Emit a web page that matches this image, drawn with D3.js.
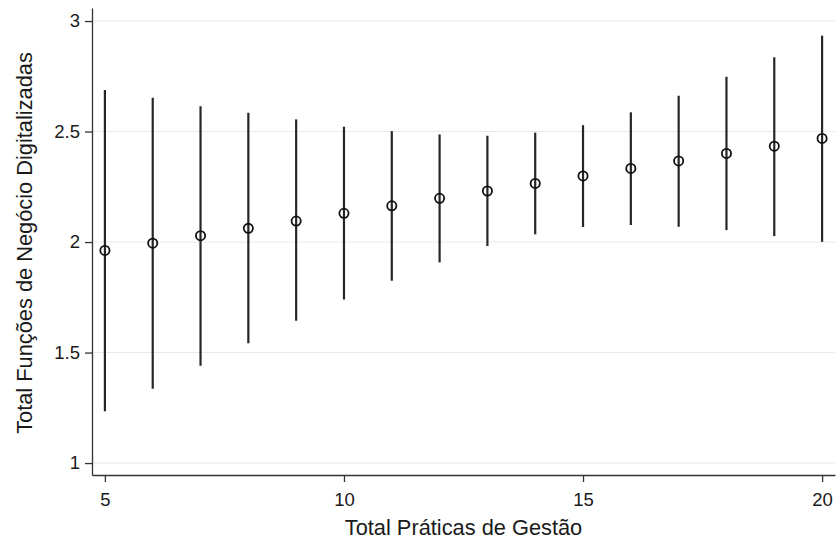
<!DOCTYPE html>
<html>
<head>
<meta charset="utf-8">
<script src="https://cdn.jsdelivr.net/npm/d3@7"></script>
<style>
html,body{margin:0;padding:0;background:#fff;}
svg{display:block;}
text{font-family:"Liberation Sans", Arial, sans-serif;fill:#1a1a1a;}
</style>
</head>
<body>
<svg id="chart" width="836" height="542"></svg>
<script>
const practices = [5,6,7,8,9,10,11,12,13,14,15,16,17,18,19,20];
const estimate  = [1.962,1.995,2.029,2.062,2.095,2.130,2.164,2.198,2.231,2.265,2.299,2.333,2.367,2.401,2.434,2.469];
const lower     = [1.235,1.336,1.440,1.542,1.644,1.740,1.825,1.908,1.982,2.035,2.068,2.077,2.069,2.054,2.027,2.001];
const upper     = [2.688,2.653,2.615,2.585,2.555,2.522,2.502,2.487,2.481,2.495,2.529,2.587,2.662,2.748,2.836,2.934];
const xTicks = [5,10,15,20];
const yTicks = [1,1.5,2,2.5,3];
const xTitle = "Total Práticas de Gestão";
const yTitle = "Total Funções de Negócio Digitalizadas";

const svg = d3.select("#chart");
const mLeft = 92, mRight = 835, mTop = 8, mBottom = 475;

const x = d3.scaleLinear().domain([4.73, 20.27]).range([mLeft, mRight]);
const y = d3.scaleLinear().domain([0.946, 3.059]).range([mBottom, mTop]);

// gridlines
svg.append("g").selectAll("line").data(yTicks).join("line")
  .attr("x1", mLeft).attr("x2", mRight)
  .attr("y1", d => y(d)).attr("y2", d => y(d))
  .attr("stroke", "#e9e9e9").attr("stroke-width", 1);

const data = practices.map((p,i)=>({p, est:estimate[i], lo:lower[i], hi:upper[i]}));

// CI lines
svg.append("g").selectAll("line").data(data).join("line")
  .attr("x1", d => x(d.p)).attr("x2", d => x(d.p))
  .attr("y1", d => y(d.lo)).attr("y2", d => y(d.hi))
  .attr("stroke", "#262626").attr("stroke-width", 2.2);

// points
svg.append("g").selectAll("circle").data(data).join("circle")
  .attr("cx", d => x(d.p)).attr("cy", d => y(d.est))
  .attr("r", 4.6).attr("fill", "none")
  .attr("stroke", "#111").attr("stroke-width", 1.8);

// axes
const xAxis = d3.axisBottom(x).tickValues(xTicks).tickSize(7).tickPadding(11).tickFormat(d3.format("d")).tickSizeOuter(0);
const gx = svg.append("g").attr("transform", `translate(0,${mBottom})`).call(xAxis);
gx.select(".domain").attr("stroke", "#333").attr("stroke-width", 1.3);
gx.selectAll(".tick line").attr("stroke", "#333").attr("stroke-width", 1.3);
gx.selectAll(".tick text").style("font-size", "18.5px").attr("fill", "#1a1a1a")
  .style("font-family", '"Liberation Sans", Arial, sans-serif');

const yAxis = d3.axisLeft(y).tickValues(yTicks).tickSize(7).tickPadding(5).tickFormat(d => d3.format("")(d)).tickSizeOuter(0);
const gy = svg.append("g").attr("transform", `translate(${mLeft},0)`).call(yAxis);
gy.select(".domain").attr("stroke", "#333").attr("stroke-width", 1.3);
gy.selectAll(".tick line").attr("stroke", "#333").attr("stroke-width", 1.3);
gy.selectAll(".tick text").style("font-size", "18.5px").attr("fill", "#1a1a1a")
  .style("font-family", '"Liberation Sans", Arial, sans-serif');

// titles
svg.append("text").attr("x", (mLeft+mRight)/2).attr("y", 535)
  .attr("text-anchor", "middle").style("font-size", "21.8px").text(xTitle);
svg.append("text").attr("transform", `translate(32,${(49+437)/2}) rotate(-90)`)
  .attr("text-anchor", "middle").style("font-size", "21.8px").text(yTitle);
</script>
</body>
</html>
